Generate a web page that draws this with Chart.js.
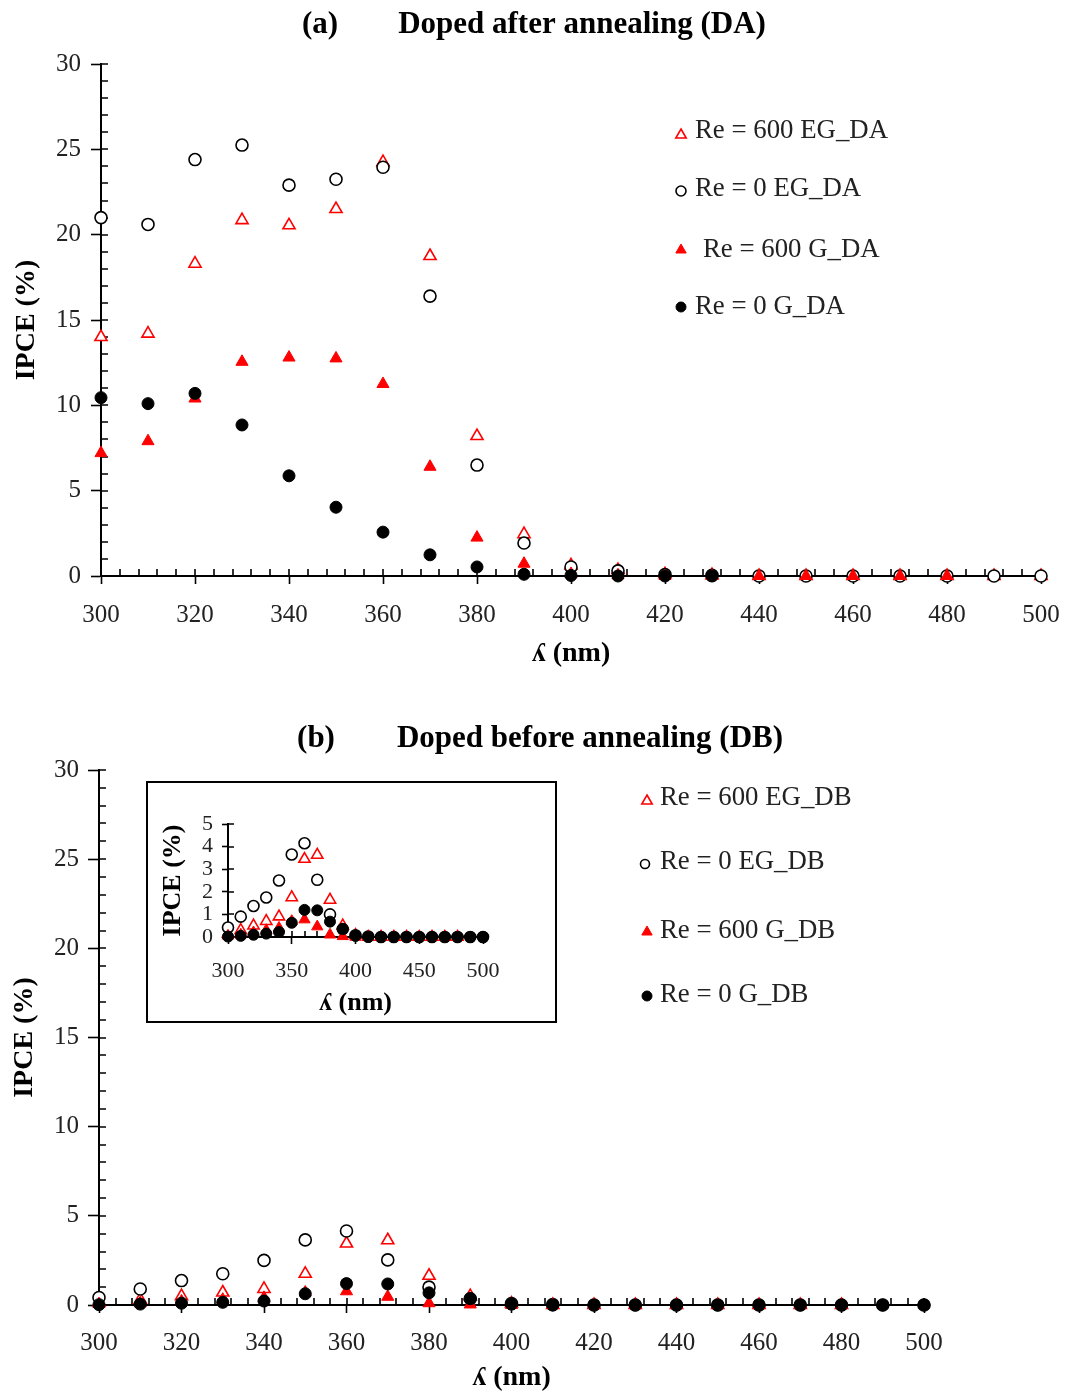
<!DOCTYPE html>
<html>
<head>
<meta charset="utf-8">
<script src="https://cdn.jsdelivr.net/npm/chart.js@4.4.1/dist/chart.umd.min.js"></script>
<style>
  body { margin: 0; background: #fff; width: 1068px; height: 1394px; position: relative; overflow: hidden; }
  canvas { position: absolute; }
  #insetBox { position: absolute; left: 146px; top: 781px; width: 407px; height: 238px; border: 2px solid #000; background: #fff; }
  #insetBox canvas { left: 0; top: 0; }
</style>
</head>
<body>
<canvas id="chartA" width="1068" height="700" style="left:0;top:0"></canvas>
<canvas id="chartB" width="1068" height="694" style="left:0;top:700px"></canvas>
<div id="insetBox"><canvas id="chartInset" width="407" height="238"></canvas></div>
<script>
// wavelengths (nm)
const wavelengths = [300, 310, 320, 330, 340, 350, 360, 370, 380, 390, 400, 410, 420, 430, 440, 450, 460, 470, 480, 490, 500];

// (a) doped after annealing, IPCE %
const ipceEG600DA = [14.0, 14.2, 18.3, 20.85, 20.55, 21.5, 24.25, 18.75, 8.2, 2.45, 0.62, 0.35, 0.1, 0.05, 0, 0, 0, 0, 0, 0, 0];
const ipceEG0DA = [21.0, 20.6, 24.4, 25.25, 22.9, 23.25, 23.95, 16.4, 6.5, 1.93, 0.53, 0.3, 0.08, 0.04, 0, 0, 0, 0, 0, 0, 0];
const ipceG600DA = [7.2, 7.9, 10.4, 12.55, 12.8, 12.75, 11.25, 6.4, 2.25, 0.72, 0.12, 0.04, 0, 0, 0, 0, 0, 0, 0];
const ipceG0DA = [10.45, 10.1, 10.7, 8.85, 5.87, 4.03, 2.57, 1.24, 0.53, 0.1, 0.03, 0, 0, 0];

// (b) doped before annealing, IPCE %
const ipceEG600DB = [0.15, 0.3, 0.5, 0.7, 0.9, 1.75, 3.45, 3.63, 1.64, 0.5, 0.08, 0, 0, 0, 0, 0, 0, 0, 0];
const ipceEG0DB = [0.42, 0.9, 1.37, 1.75, 2.5, 3.65, 4.15, 2.53, 1.0, 0.35, 0.08, 0.02, 0, 0, 0, 0, 0, 0, 0, 0, 0];
const ipceG600DB = [0.05, 0.1, 0.2, 0.3, 0.4, 0.7, 0.77, 0.46, 0.1, 0.03, 0, 0, 0, 0, 0, 0, 0, 0, 0];
const ipceG0DB = [0.02, 0.05, 0.1, 0.15, 0.22, 0.63, 1.2, 1.18, 0.68, 0.35, 0.05, 0, 0, 0, 0, 0, 0, 0, 0, 0, 0];

// tick labels
const xTicksMain = [300, 320, 340, 360, 380, 400, 420, 440, 460, 480, 500];
const yTicksMain = [0, 5, 10, 15, 20, 25, 30];
const xTicksInset = [300, 350, 400, 450, 500];
const yTicksInset = [0, 1, 2, 3, 4, 5];

const serif = "'Liberation Serif', 'Times New Roman', serif";
const axisTitleX = "\u028E (nm)";

function pts(values) {
  return values.map((v, i) => ({ x: wavelengths[i], y: v }));
}

const openTri = { pointStyle: 'triangle', borderColor: '#ff0000', backgroundColor: '#ffffff', borderWidth: 1.6, order: 3 };
const openCirc = { pointStyle: 'circle', borderColor: '#000000', backgroundColor: '#ffffff', borderWidth: 1.6, order: 2 };
const fillTri = { pointStyle: 'triangle', borderColor: '#ff0000', backgroundColor: '#ff0000', borderWidth: 1, order: 1 };
const fillCirc = { pointStyle: 'circle', borderColor: '#000000', backgroundColor: '#000000', borderWidth: 1, order: 0 };

function sets(labels, series, triR, circR) {
  const styles = [openTri, openCirc, fillTri, fillCirc];
  return series.map((s, i) => Object.assign({
    label: labels[i],
    data: pts(s),
    clip: false,
    pointRadius: styles[i].pointStyle === 'triangle' ? triR : circR,
    pointHoverRadius: styles[i].pointStyle === 'triangle' ? triR : circR
  }, styles[i]));
}

// inner tick marks (minor ticks and inside half of the major ticks)
const innerTicks = {
  id: 'innerTicks',
  beforeDatasetsDraw(chart, args, o) {
    const { ctx, chartArea: a, scales: { x, y } } = chart;
    ctx.save();
    ctx.beginPath();
    ctx.strokeStyle = '#000';
    ctx.lineWidth = 1.6;
    const nx = Math.round((x.max - x.min) / o.xMinor);
    for (let i = 0; i <= nx; i++) {
      const px = Math.round(x.getPixelForValue(x.min + i * o.xMinor));
      ctx.moveTo(px, a.bottom);
      ctx.lineTo(px, a.bottom - o.len);
    }
    const ny = Math.round((y.max - y.min) / o.yMinor);
    for (let i = 0; i <= ny; i++) {
      const py = Math.round(y.getPixelForValue(y.min + i * o.yMinor));
      ctx.moveTo(a.left, py);
      ctx.lineTo(a.left + o.len, py);
    }
    ctx.stroke();
    ctx.restore();
  }
};

// panel heading: "(a)" and the caption as two pieces
const panelTitle = {
  id: 'panelTitle',
  afterDraw(chart, args, o) {
    const ctx = chart.ctx;
    ctx.save();
    ctx.fillStyle = '#000';
    ctx.font = 'bold 31px ' + serif;
    ctx.textBaseline = 'middle';
    ctx.textAlign = 'center';
    o.items.forEach(t => ctx.fillText(t.text, t.x, t.y));
    ctx.restore();
  }
};

// legend drawn by hand next to the plot
const pointLegend = {
  id: 'pointLegend',
  afterDraw(chart, args, o) {
    const ctx = chart.ctx;
    chart.data.datasets.forEach((ds, i) => {
      ctx.save();
      ctx.fillStyle = ds.backgroundColor;
      ctx.strokeStyle = ds.borderColor;
      ctx.lineWidth = ds.borderWidth;
      Chart.helpers.drawPoint(ctx, { pointStyle: ds.pointStyle, radius: o.radius[i], borderWidth: ds.borderWidth, rotation: 0 },
        o.markerX[i], o.rows[i] + o.markerDy[i]);
      ctx.fillStyle = '#222';
      ctx.font = o.font;
      ctx.textBaseline = 'middle';
      ctx.textAlign = 'left';
      ctx.fillText(ds.label, o.textX[i], o.rows[i]);
      ctx.restore();
    });
  }
};

function scale(c) {
  return {
    type: 'linear',
    min: c.ticks[0],
    max: c.ticks[c.ticks.length - 1],
    afterBuildTicks: s => { s.ticks = c.ticks.map(v => ({ value: v })); },
    afterFit: s => {
      if (c.width) s.width = c.width;
      if (c.height) s.height = c.height;
      s.paddingLeft = 0; s.paddingRight = 0; s.paddingTop = 0; s.paddingBottom = 0;
    },
    border: { display: true, color: '#000', width: 2 },
    grid: { drawOnChartArea: false, drawTicks: true, tickLength: c.tickLength, tickWidth: 1.6, tickColor: '#000' },
    ticks: { color: '#222', font: { family: serif, size: c.fontSize }, padding: c.tickPad, maxRotation: 0, autoSkip: false },
    title: { display: true, text: c.title, color: '#000', font: { family: serif, size: c.titleSize, weight: 'bold', lineHeight: 1 }, padding: c.titlePad }
  };
}

function makeChart(id, c) {
  return new Chart(document.getElementById(id), {
    type: 'scatter',
    data: { datasets: c.datasets },
    options: {
      responsive: false,
      animation: false,
      devicePixelRatio: 1,
      layout: { padding: c.padding },
      plugins: {
        legend: { display: false },
        tooltip: { enabled: false },
        title: { display: false },
        innerTicks: c.inner,
        panelTitle: c.heading || false,
        pointLegend: c.legend || false
      },
      scales: { x: scale(c.x), y: scale(c.y) }
    },
    plugins: [innerTicks, panelTitle, pointLegend]
  });
}

// (a)
makeChart('chartA', {
  datasets: sets(['Re = 600 EG_DA', 'Re = 0 EG_DA', 'Re = 600 G_DA', 'Re = 0 G_DA'],
    [ipceEG600DA, ipceEG0DA, ipceG600DA, ipceG0DA], 7, 6),
  padding: { top: 64, right: 27, bottom: 0, left: 0 },
  heading: { items: [{ text: '(a)', x: 320, y: 25 }, { text: 'Doped after annealing (DA)', x: 582, y: 25 }] },
  x: { ticks: xTicksMain, height: 124, tickLength: 8, fontSize: 25, tickPad: 16, title: axisTitleX, titleSize: 28, titlePad: { top: 0, bottom: 32 } },
  y: { ticks: yTicksMain, width: 101, tickLength: 10, fontSize: 25, tickPad: 10, title: 'IPCE (%)', titleSize: 28, titlePad: { top: 13, bottom: 0 } },
  inner: { xMinor: 4, yMinor: 1, len: 7 },
  legend: {
    rows: [131, 189, 250, 307], markerX: [681, 681, 681, 681], markerDy: [4, 2, 0, 0],
    textX: [695, 695, 703, 695], radius: [6, 5, 6, 5], font: "26.8px " + serif
  }
});

// (b)
makeChart('chartB', {
  datasets: sets(['Re = 600 EG_DB', 'Re = 0 EG_DB', 'Re = 600 G_DB', 'Re = 0 G_DB'],
    [ipceEG600DB, ipceEG0DB, ipceG600DB, ipceG0DB], 7, 6),
  padding: { top: 70, right: 144, bottom: 0, left: 0 },
  heading: { items: [{ text: '(b)', x: 316, y: 39 }, { text: 'Doped before annealing (DB)', x: 590, y: 39 }] },
  x: { ticks: xTicksMain, height: 89, tickLength: 8, fontSize: 25, tickPad: 15, title: axisTitleX, titleSize: 28, titlePad: { top: 0, bottom: 2 } },
  y: { ticks: yTicksMain, width: 99, tickLength: 11, fontSize: 25, tickPad: 9, title: 'IPCE (%)', titleSize: 28, titlePad: { top: 11, bottom: 0 } },
  inner: { xMinor: 4, yMinor: 1, len: 7 },
  legend: {
    rows: [98, 162, 231, 295], markerX: [647, 645, 647, 647], markerDy: [3, 2, 1, 1],
    textX: [660, 660, 660, 660], radius: [6, 4.5, 6, 5], font: "26.8px " + serif
  }
});

// inset of (b)
makeChart('chartInset', {
  datasets: sets(['Re = 600 EG_DB', 'Re = 0 EG_DB', 'Re = 600 G_DB', 'Re = 0 G_DB'],
    [ipceEG600DB, ipceEG0DB, ipceG600DB, ipceG0DB], 6.5, 5.5),
  padding: { top: 41, right: 72, bottom: 0, left: 0 },
  x: { ticks: xTicksInset, height: 84, tickLength: 7, fontSize: 22, tickPad: 14, title: axisTitleX, titleSize: 26, titlePad: { top: 0, bottom: 5 } },
  y: { ticks: yTicksInset, width: 80, tickLength: 6, fontSize: 22, tickPad: 9, title: 'IPCE (%)', titleSize: 26, titlePad: { top: 12, bottom: 0 } },
  inner: { xMinor: 10, yMinor: 1, len: 6 }
});
</script>
</body>
</html>
